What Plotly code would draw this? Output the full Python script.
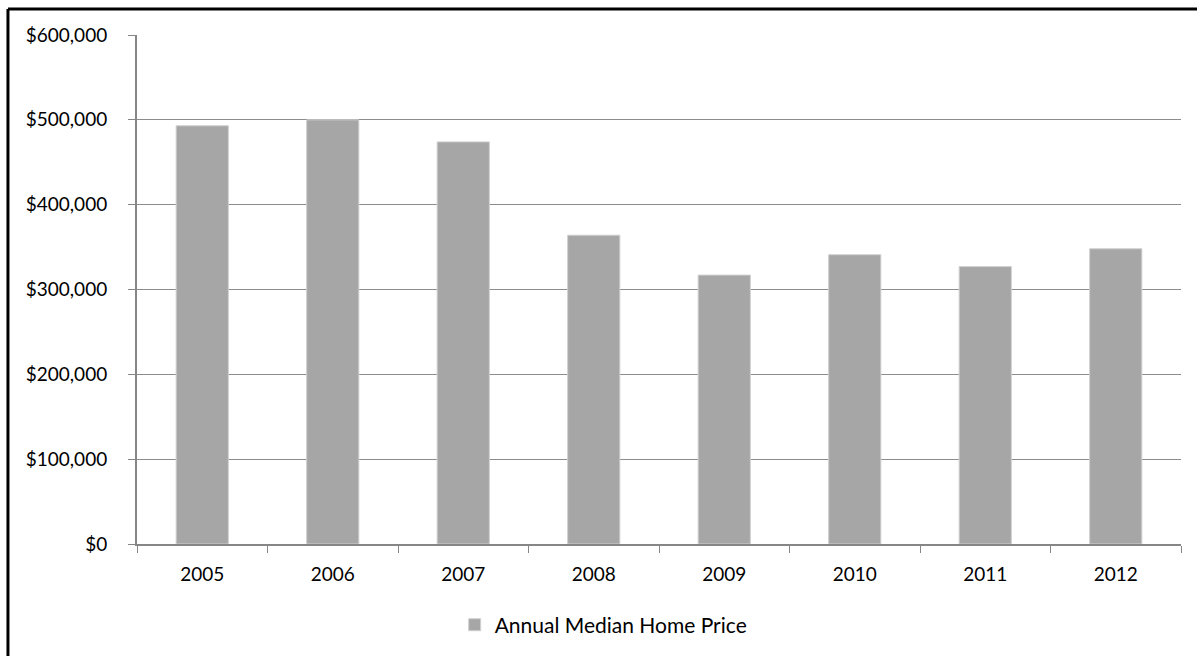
import plotly.graph_objects as go

years = ["2005", "2006", "2007", "2008", "2009", "2010", "2011", "2012"]
prices = [493000, 500000, 474000, 364000, 317000, 341000, 327000, 348000]
series_name = "Annual Median Home Price"
y_ticks = [0, 100000, 200000, 300000, 400000, 500000, 600000]
y_tick_labels = ["$0", "$100,000", "$200,000", "$300,000", "$400,000", "$500,000", "$600,000"]

FONT = "Lato"

fig = go.Figure()
fig.add_trace(go.Bar(
    x=years, y=prices, name=series_name,
    marker=dict(color="#A6A6A6", line=dict(color="#D0D0D0", width=1)),
    width=0.4,
))

fig.update_layout(
    width=1197, height=656,
    margin=dict(l=137, r=16, t=35, b=111),
    paper_bgcolor="white", plot_bgcolor="white",
    font=dict(family=FONT, size=19, color="black"),
    showlegend=True,
    legend=dict(orientation="h", x=0.447, xanchor="center", y=-0.157, yanchor="middle",
                font=dict(family=FONT, size=21, color="black")),
    bargap=0.6,
    shapes=[
        dict(type="line", xref="paper", yref="paper", x0=-0.1236, x1=1.1, y0=1.051, y1=1.051,
             line=dict(color="black", width=3)),
        dict(type="line", xref="paper", yref="paper", x0=-0.1236, x1=-0.1236, y0=-0.3, y1=1.051,
             line=dict(color="black", width=3)),
    ],
)

fig.update_xaxes(
    type="category", showline=True, linecolor="#868686", linewidth=2,
    ticks="outside", tickson="boundaries", ticklen=7, tickcolor="#868686", tickwidth=1,
    ticklabelstandoff=12, showgrid=False,
    tickfont=dict(family=FONT, size=19, color="black"),
)
fig.update_yaxes(
    range=[0, 600000], tickvals=y_ticks, ticktext=y_tick_labels,
    showline=True, linecolor="#868686", linewidth=2,
    ticks="outside", ticklen=7, tickcolor="#868686", tickwidth=1,
    showgrid=True, gridcolor="#8C8C8C", gridwidth=1,
    ticklabelstandoff=17, zeroline=False,
    tickfont=dict(family=FONT, size=19, color="black"),
)

fig.write_html(
    "out.html",
    config={"displayModeBar": False},
    post_script="document.body.style.margin='0';document.body.style.overflow='hidden';",
)
